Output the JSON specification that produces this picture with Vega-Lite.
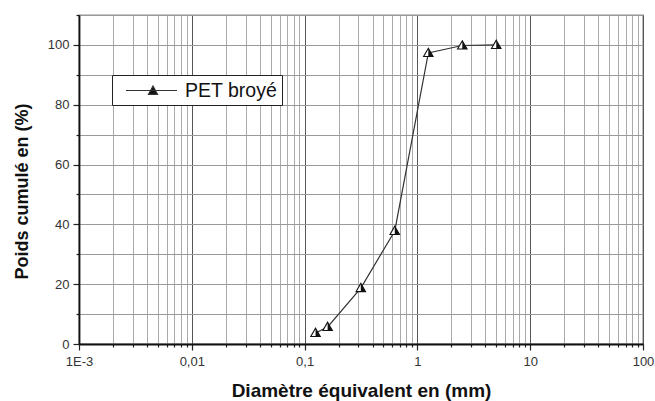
{
  "$schema": "https://vega.github.io/schema/vega-lite/v6.json",
  "width": 564,
  "height": 329,
  "autosize": {"type": "none"},
  "padding": {"left": 79, "top": 15, "right": 12, "bottom": 57},
  "background": "white",
  "config": {
    "view": {"stroke": "#222222", "strokeWidth": 1.2},
    "font": "Liberation Sans"
  },
  "data": {
    "values": [
      {"diametre": 0.125, "poids": 3.7, "serie": "PET broyé"},
      {"diametre": 0.16, "poids": 5.7, "serie": "PET broyé"},
      {"diametre": 0.315, "poids": 18.7, "serie": "PET broyé"},
      {"diametre": 0.63, "poids": 37.8, "serie": "PET broyé"},
      {"diametre": 1.25, "poids": 97.3, "serie": "PET broyé"},
      {"diametre": 2.5, "poids": 99.8, "serie": "PET broyé"},
      {"diametre": 5, "poids": 100, "serie": "PET broyé"}
    ]
  },
  "encoding": {
    "x": {
      "field": "diametre",
      "type": "quantitative",
      "scale": {"type": "log", "domain": [0.001, 100], "nice": false},
      "title": "Diamètre équivalent en (mm)",
      "axis": {
        "values": [0.001, 0.002, 0.003, 0.004, 0.005, 0.006, 0.007, 0.008, 0.009,
                   0.01, 0.02, 0.03, 0.04, 0.05, 0.06, 0.07, 0.08, 0.09,
                   0.1, 0.2, 0.3, 0.4, 0.5, 0.6, 0.7, 0.8, 0.9,
                   1, 2, 3, 4, 5, 6, 7, 8, 9,
                   10, 20, 30, 40, 50, 60, 70, 80, 90, 100],
        "labelExpr": "datum.value == 0.001 ? '1E-3' : datum.value == 0.01 ? '0,01' : datum.value == 0.1 ? '0,1' : datum.value == 1 ? '1' : datum.value == 10 ? '10' : datum.value == 100 ? '100' : ''",
        "labelOverlap": false,
        "labelFlush": false,
        "labelBound": false,
        "grid": true,
        "gridColor": {"condition": {"test": "indexof([0.001, 0.01, 0.1, 1, 10, 100], datum.value) >= 0", "value": "#555555"}, "value": "#aaaaaa"},
        "gridWidth": 1,
        "tickSize": {"condition": {"test": "indexof([0.001, 0.01, 0.1, 1, 10, 100], datum.value) >= 0", "value": 6}, "value": 3},
        "tickColor": "#222222",
        "tickWidth": 1.2,
        "domainColor": "#111111",
        "domainWidth": 1.8,
        "labelFont": "Liberation Sans",
        "labelFontSize": 13,
        "labelColor": "#333333",
        "labelPadding": 5,
        "titleFont": "Liberation Sans",
        "titleFontSize": 19,
        "titleFontWeight": "bold",
        "titleColor": "#111111",
        "titlePadding": 13
      }
    },
    "y": {
      "field": "poids",
      "type": "quantitative",
      "scale": {"domain": [0, 110], "nice": false, "zero": true},
      "title": "Poids cumulé en (%)",
      "axis": {
        "values": [0, 10, 20, 30, 40, 50, 60, 70, 80, 90, 100, 110],
        "labelExpr": "datum.value % 20 == 0 && datum.value <= 100 ? datum.label : ''",
        "labelOverlap": false,
        "labelFlush": false,
        "labelBound": false,
        "grid": true,
        "gridColor": "#999999",
        "gridWidth": 1,
        "tickSize": {"condition": {"test": "datum.value % 20 == 0", "value": 6}, "value": 3},
        "tickColor": "#222222",
        "tickWidth": 1.2,
        "domainColor": "#111111",
        "domainWidth": 1.8,
        "labelFont": "Liberation Sans",
        "labelFontSize": 13,
        "labelColor": "#333333",
        "labelPadding": 4,
        "titleFont": "Liberation Sans",
        "titleFontSize": 18,
        "titleFontWeight": "bold",
        "titleColor": "#111111",
        "titlePadding": 16,
        "titleY": 176
      }
    }
  },
  "layer": [
    {
      "mark": {"type": "line", "interpolate": "linear", "strokeWidth": 1.2},
      "encoding": {
        "color": {
          "field": "serie",
          "type": "nominal",
          "scale": {"range": ["#333333"]},
          "legend": {
            "orient": "none",
            "legendX": 33,
            "legendY": 60,
            "title": null,
            "symbolType": "M-0.15,0H4.95M2.55,-0.45L3,0.38L2.1,0.38Z",
            "symbolSize": 400,
            "symbolStrokeWidth": 1.2,
            "symbolFillColor": "#111111",
            "symbolStrokeColor": "#222222",
            "labelFont": "Liberation Sans",
            "labelFontSize": 19.5,
            "labelColor": "#111111",
            "labelOffset": 46.5,
            "labelLimit": 300,
            "padding": 4.5,
            "strokeColor": "#222222",
            "fillColor": "white"
          }
        }
      }
    },
    {
      "mark": {"type": "point", "shape": "M0,-1L1,0.75L-1,0.75Z", "size": 90, "filled": true, "fill": "white", "stroke": "#111111", "strokeWidth": 1.1, "opacity": 1}
    },
    {
      "mark": {"type": "point", "shape": "M0,-1L1,0.75L0,0.75Z", "size": 90, "filled": true, "fill": "#111111", "strokeWidth": 0, "opacity": 1}
    }
  ]
}
